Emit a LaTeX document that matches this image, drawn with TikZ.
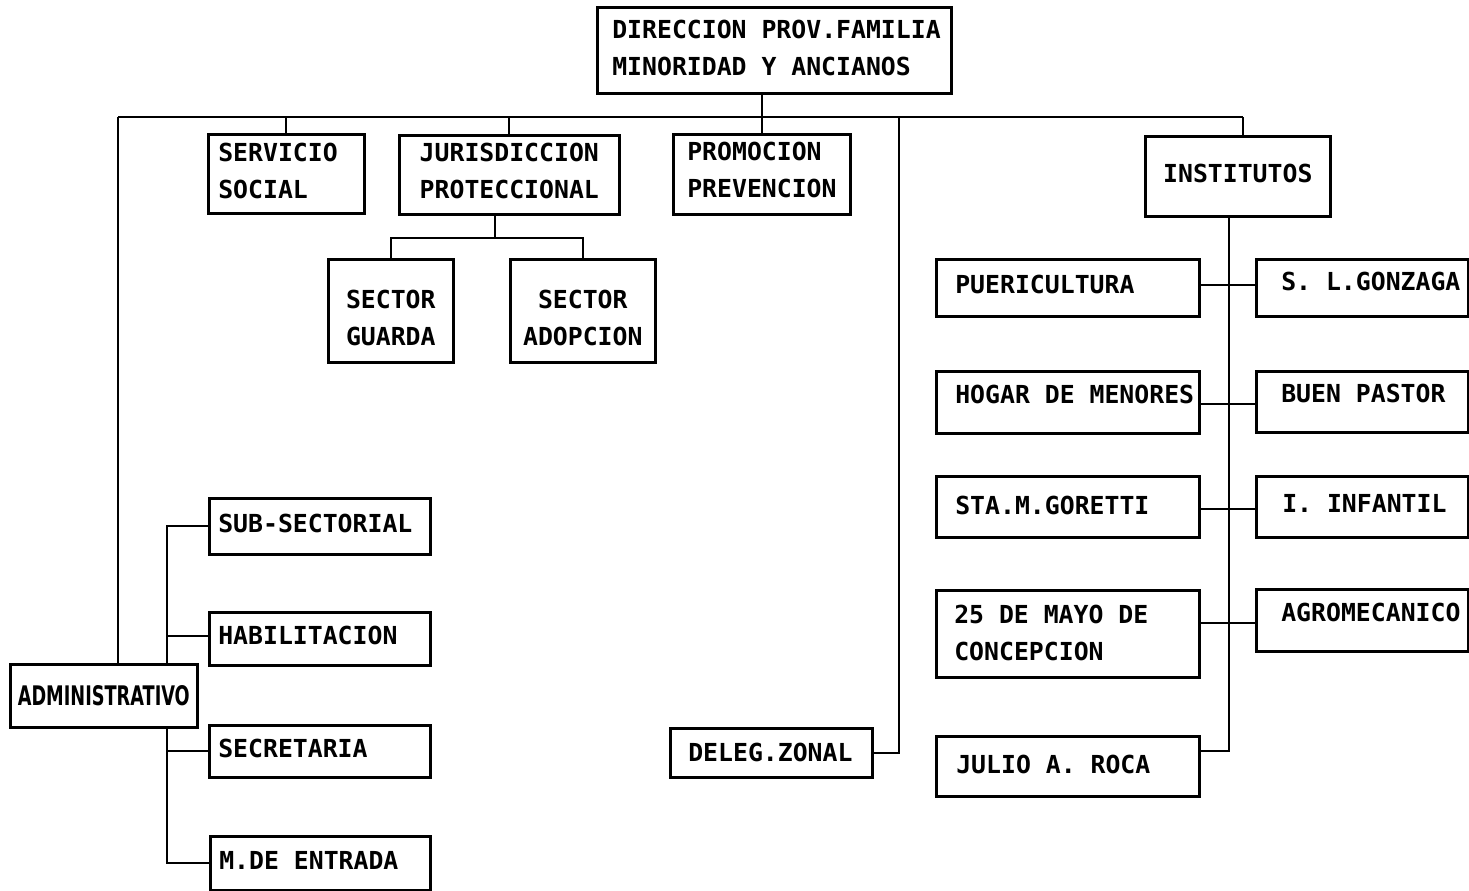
\documentclass[tikz,border=0pt]{standalone}
\usepackage{fontspec}
\usepackage{graphicx}
\setmonofont{DejaVu Sans Mono}
\newfontfamily\condfont{DejaVu Sans}
\newcommand{\dnr}[1]{\rule[-#1]{0pt}{#1}}
\newcommand{\upr}[1]{\rule{0pt}{#1}}
\newcommand{\gap}{\hspace*{14.9pt}}
\begin{document}
\begin{tikzpicture}[x=1pt,y=-1pt,
  box/.style={draw, line width=2.6pt, fill=white, anchor=north west, inner xsep=0pt, inner ysep=0pt,
    font=\ttfamily\bfseries\fontsize{24.8}{37}\selectfont},
  lft/.style={align=left},
  ctr/.style={align=center},
  one/.style={text height=18pt, text depth=#1},
  one/.default=6pt,
  conn/.style={line width=2.2pt}]
\useasboundingbox (0,0) rectangle (1469,891);
% --- top
\node[box,lft,text width=354pt,minimum height=86pt] (dir) at (596,6)
  {\hspace*{15pt}DIRECCION\gap PROV.FAMILIA\\\hspace*{15pt}MINORIDAD\gap Y\gap ANCIANOS\dnr{6pt}};
\node[box,lft,text width=156pt,minimum height=79pt] (serv) at (207,133)
  {\hspace*{10pt}SERVICIO\\\hspace*{10pt}SOCIAL\dnr{7pt}};
\node[box,ctr,text width=220pt,minimum height=79pt] (jur) at (398,134)
  {JURISDICCION\\PROTECCIONAL\dnr{8pt}};
\node[box,lft,text width=177pt,minimum height=80pt] (prom) at (672,133)
  {\hspace*{14pt}PROMOCION\\\hspace*{14pt}PREVENCION\dnr{10pt}};
\node[box,ctr,text width=125pt,minimum height=103pt] (guarda) at (327,258)
  {\upr{32pt}SECTOR\\GUARDA};
\node[box,ctr,text width=145pt,minimum height=103pt] (adop) at (509,258)
  {\upr{32pt}SECTOR\\ADOPCION};
% --- institutos
\node[box,ctr,one,text width=185pt,minimum height=80pt] (inst) at (1144,135) {INSTITUTOS};
\node[box,lft,one,text width=263pt,minimum height=57pt] (puer) at (935,258) {\hspace*{19pt}PUERICULTURA};
\node[box,lft,one=16pt,text width=263pt,minimum height=62pt] (hogar) at (935,370) {\hspace*{19pt}HOGAR\gap DE\gap MENORES};
\node[box,lft,one=2pt,text width=263pt,minimum height=61pt] (gor) at (935,475) {\hspace*{19pt}STA.M.GORETTI};
\node[box,lft,text width=263pt,minimum height=87pt] (mayo) at (935,589) {\hspace*{18pt}25\gap DE\gap MAYO\gap DE\\\hspace*{18pt}CONCEPCION\dnr{3pt}};
\node[box,lft,one=4pt,text width=263pt,minimum height=60pt] (roca) at (935,735) {\hspace*{20pt}JULIO\gap A.\gap ROCA};
\node[box,lft,one=12pt,text width=212pt,minimum height=57pt] (gonz) at (1255,258) {\hspace*{25pt}S.\gap L.GONZAGA};
\node[box,lft,one=17pt,text width=212pt,minimum height=61pt] (buen) at (1255,370) {\hspace*{25pt}BUEN\gap PASTOR};
\node[box,lft,one=7pt,text width=212pt,minimum height=61pt] (inf) at (1255,475) {\hspace*{26pt}I.\gap INFANTIL};
\node[box,lft,one=16pt,text width=212pt,minimum height=62pt] (agro) at (1255,588) {\hspace*{25pt}AGROMECANICO};
% --- administrativo
\node[box,lft,one,text width=221pt,minimum height=56pt] (sub) at (208,497) {\hspace*{9pt}SUB-SECTORIAL};
\node[box,lft,one,text width=221pt,minimum height=53pt] (hab) at (208,611) {\hspace*{9pt}HABILITACION};
\node[box,lft,one,text width=221pt,minimum height=52pt] (sec) at (208,724) {\hspace*{9pt}SECRETARIA};
\node[box,lft,one,text width=220pt,minimum height=54pt] (ent) at (209,835) {\hspace*{9pt}M.DE\gap ENTRADA};
\node[box,lft,one=0pt,text width=202pt,minimum height=49pt] (deleg) at (669,727) {\hspace*{18pt}DELEG.ZONAL};
% --- connectors
\coordinate (busL) at (118,117);
\coordinate (busR) at (1243,117);
\coordinate (dz) at (899,117);
\coordinate (jurfork) at (495,238);
\coordinate (ispine) at (1229,215);
\coordinate (aspine) at (167,523);
\draw[conn] (busL) -- (busR);
\draw[conn] (dir.south -| prom.north) -- (prom.north);
\draw[conn] (serv.north) -- (serv.north |- busL);
\draw[conn] (jur.north) -- (jur.north |- busL);
\draw[conn] (busR) -- (inst.north -| busR);
\draw[conn] (dz) |- (deleg.east);
\draw[conn] (jur.south -| jurfork) -- (jurfork);
\draw[conn] (guarda.north) |- (jurfork) -| (adop.north);
\draw[conn] (inst.south -| ispine) |- ([yshift=15pt]roca.east);
\draw[conn] ([yshift=3pt]puer.east) -- ([yshift=3pt]gonz.west);
\draw[conn] ([yshift=-2pt]hogar.east) -- ([yshift=-2pt]buen.west -| hogar.east) -- ([yshift=-2pt]buen.west);
\draw[conn] ([yshift=-2pt]gor.east) -- ([yshift=-2pt]inf.west);
\draw[conn] ([yshift=-3pt]agro.west -| mayo.east) -- ([yshift=-3pt]agro.west);
\draw[conn] (sub.west) -- (sub.west -| aspine) -- (ent.west -| aspine) -- (ent.west);
\draw[conn] ([yshift=3pt]hab.west) -- ([yshift=3pt]hab.west -| aspine);
\draw[conn] (sec.west) -- (sec.west -| aspine);
\node[box,ctr,text width=187pt,minimum height=63pt] (admin) at (9,663)
  {\resizebox{172pt}{20pt}{\condfont\bfseries ADMINISTRATIVO}};
\draw[conn] (busL) -- (admin.north -| busL);
\end{tikzpicture}
\end{document}
